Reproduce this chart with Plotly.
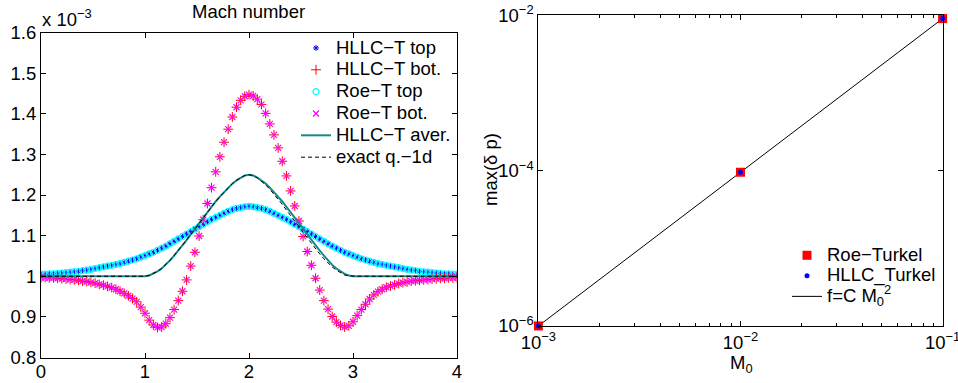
import numpy as np
import plotly.graph_objects as go

# ---------------- data: left panel (Mach number, units of 1e-3) ----------------
x_grid = np.linspace(0.0, 4.0, 101)

hllc_top = [
    1.005, 1.005, 1.006, 1.006, 1.007, 1.008, 1.009, 1.010, 1.011, 1.012,
    1.014, 1.015, 1.017, 1.019, 1.021, 1.023, 1.025, 1.027, 1.029, 1.031,
    1.034, 1.037, 1.040, 1.043, 1.047, 1.051, 1.055, 1.059, 1.064, 1.069,
    1.074, 1.080, 1.086, 1.092, 1.098, 1.104, 1.110, 1.116, 1.122, 1.128,
    1.134, 1.140, 1.145, 1.150, 1.155, 1.160, 1.164, 1.167, 1.169, 1.171,
    1.172,
    1.171, 1.169, 1.167, 1.164, 1.160, 1.155, 1.150, 1.145, 1.140, 1.134,
    1.128, 1.122, 1.116, 1.110, 1.104, 1.098, 1.092, 1.086, 1.080, 1.074,
    1.069, 1.064, 1.059, 1.055, 1.051, 1.047, 1.043, 1.040, 1.037, 1.034,
    1.031, 1.029, 1.027, 1.025, 1.023, 1.021, 1.019, 1.017, 1.015, 1.014,
    1.012, 1.011, 1.010, 1.009, 1.008, 1.007, 1.006, 1.006, 1.005, 1.005,
]
roe_top = list(hllc_top)

hllc_bot = [
    0.997, 0.997, 0.996, 0.996, 0.995, 0.994, 0.993, 0.992, 0.991, 0.990,
    0.988, 0.987, 0.985, 0.983, 0.980, 0.978, 0.975, 0.972, 0.968, 0.963,
    0.958, 0.952, 0.945, 0.937, 0.924, 0.909, 0.892, 0.880, 0.874, 0.875,
    0.883, 0.898, 0.918, 0.940, 0.963, 0.991, 1.025, 1.059, 1.099, 1.139,
    1.179, 1.218, 1.257, 1.294, 1.330, 1.362, 1.392, 1.416, 1.433, 1.443,
    1.447,
    1.444, 1.436, 1.423, 1.401, 1.375, 1.348, 1.316, 1.283, 1.247, 1.210,
    1.173, 1.136, 1.098, 1.061, 1.027, 0.995, 0.966, 0.940, 0.919, 0.901,
    0.887, 0.879, 0.875, 0.878, 0.888, 0.903, 0.918, 0.931, 0.944, 0.954,
    0.962, 0.968, 0.973, 0.976, 0.979, 0.982, 0.984, 0.986, 0.988, 0.989,
    0.990, 0.991, 0.992, 0.993, 0.994, 0.995, 0.995, 0.996, 0.996, 0.997,
]
roe_bot = list(hllc_bot)

hllc_aver = [
    1.000, 1.000, 1.000, 1.000, 1.000, 1.000, 1.000, 1.000, 1.000, 1.000,
    1.000, 1.000, 1.000, 1.000, 1.000, 1.000, 1.000, 1.000, 1.000, 1.000,
    1.000, 1.000, 1.000, 1.000, 1.000, 1.000,
    1.002, 1.006, 1.012, 1.019, 1.028, 1.039, 1.051, 1.063, 1.076, 1.089,
    1.103, 1.117, 1.131, 1.145, 1.158, 1.171, 1.184, 1.196, 1.207, 1.218,
    1.228, 1.236, 1.243, 1.248, 1.250,
    1.248, 1.243, 1.236, 1.228, 1.218, 1.207, 1.196, 1.184, 1.171, 1.158,
    1.145, 1.131, 1.117, 1.103, 1.089, 1.076, 1.063, 1.051, 1.039, 1.028,
    1.019, 1.012, 1.006, 1.002,
    1.000, 1.000, 1.000, 1.000, 1.000, 1.000, 1.000, 1.000, 1.000, 1.000,
    1.000, 1.000, 1.000, 1.000, 1.000, 1.000, 1.000, 1.000, 1.000, 1.000,
    1.000, 1.000, 1.000, 1.000, 1.000, 1.000,
]

exact_1d = [
    1.000, 1.000, 1.000, 1.000, 1.000, 1.000, 1.000, 1.000, 1.000, 1.000,
    1.000, 1.000, 1.000, 1.000, 1.000, 1.000, 1.000, 1.000, 1.000, 1.000,
    1.000, 1.000, 1.000, 1.000, 1.000, 1.000,
    1.002, 1.006, 1.012, 1.019, 1.028, 1.039, 1.051, 1.063, 1.076, 1.089,
    1.103, 1.117, 1.131, 1.145, 1.158, 1.171, 1.184, 1.196, 1.207, 1.218,
    1.228, 1.236, 1.243, 1.248, 1.250,
    1.248, 1.242, 1.234, 1.225, 1.214, 1.202, 1.190, 1.177, 1.163, 1.150,
    1.136, 1.122, 1.108, 1.094, 1.080, 1.067, 1.055, 1.043, 1.032, 1.023,
    1.015, 1.008, 1.003, 1.001,
    1.000, 1.000, 1.000, 1.000, 1.000, 1.000, 1.000, 1.000, 1.000, 1.000,
    1.000, 1.000, 1.000, 1.000, 1.000, 1.000, 1.000, 1.000, 1.000, 1.000,
    1.000, 1.000, 1.000, 1.000, 1.000, 1.000,
]

left_xticks = [0, 1, 2, 3, 4]
left_yticks = [0.8, 0.9, 1.0, 1.1, 1.2, 1.3, 1.4, 1.5, 1.6]
left_yticklabels = ["0.8", "0.9", "1", "1.1", "1.2", "1.3", "1.4", "1.5", "1.6"]

# ---------------- data: right panel ----------------
mach0 = [1e-3, 1e-2, 1e-1]
roe_turkel = [1.0e-6, 9.6e-5, 9.2e-3]
hllc_turkel = [1.0e-6, 9.6e-5, 9.2e-3]
fit_cm2 = [1.0e-6, 9.6e-5, 9.2e-3]

right_xticks = [1e-3, 1e-2, 1e-1]
right_xticklabels = ["10<sup>−3</sup>", "10<sup>−2</sup>", "10<sup>−1</sup>"]
right_yticks = [1e-6, 1e-4, 1e-2]
right_yticklabels = ["10<sup>−6</sup>", "10<sup>−4</sup>", "10<sup>−2</sup>"]
right_xminor = [2e-3, 3e-3, 4e-3, 5e-3, 6e-3, 7e-3, 8e-3, 9e-3,
                2e-2, 3e-2, 4e-2, 5e-2, 6e-2, 7e-2, 8e-2, 9e-2]

FONT = "Liberation Sans, Arial, Helvetica, sans-serif"
FS = 18.5
W, H = 958, 383


def big(label):
    return "<span style='font-size:%spx'>%s</span>" % (FS, label)


fig = go.Figure()

# left panel traces
fig.add_trace(go.Scatter(
    x=x_grid, y=hllc_top, mode="markers", name=big("HLLC−T top"),
    marker=dict(symbol="asterisk", size=5, color="blue", line=dict(color="blue", width=1)),
    xaxis="x", yaxis="y", legend="legend"))
fig.add_trace(go.Scatter(
    x=x_grid, y=hllc_bot, mode="markers", name=big("HLLC−T bot."),
    marker=dict(symbol="cross-thin", size=7, color="red", line=dict(color="red", width=1)),
    xaxis="x", yaxis="y", legend="legend"))
fig.add_trace(go.Scatter(
    x=x_grid, y=roe_top, mode="markers", name=big("Roe−T top"),
    marker=dict(symbol="circle-open", size=6, color="cyan", line=dict(color="cyan", width=1.2)),
    xaxis="x", yaxis="y", legend="legend"))
fig.add_trace(go.Scatter(
    x=x_grid, y=roe_bot, mode="markers", name=big("Roe−T bot."),
    marker=dict(symbol="x-thin", size=6, color="magenta", line=dict(color="magenta", width=1.2)),
    xaxis="x", yaxis="y", legend="legend"))
fig.add_trace(go.Scatter(
    x=x_grid, y=hllc_aver, mode="lines", name=big("HLLC−T aver."),
    line=dict(color="#168a8a", width=2),
    xaxis="x", yaxis="y", legend="legend"))
fig.add_trace(go.Scatter(
    x=x_grid, y=exact_1d, mode="lines", name=big("exact q.−1d"),
    line=dict(color="black", width=1, dash="4px,3px"),
    xaxis="x", yaxis="y", legend="legend"))

# right panel traces
fig.add_trace(go.Scatter(
    x=mach0, y=fit_cm2, mode="lines", name=big("f=C M<sub>0</sub><sup>2</sup>"),
    line=dict(color="black", width=1), legendrank=3,
    xaxis="x2", yaxis="y2", legend="legend2", cliponaxis=False))
fig.add_trace(go.Scatter(
    x=mach0, y=roe_turkel, mode="markers", name=big("Roe−Turkel"),
    marker=dict(symbol="square", size=9, color="red"), legendrank=1,
    xaxis="x2", yaxis="y2", legend="legend2", cliponaxis=False))
fig.add_trace(go.Scatter(
    x=mach0, y=hllc_turkel, mode="markers", name=big("HLLC_Turkel"),
    marker=dict(symbol="circle", size=5, color="blue"), legendrank=2,
    xaxis="x2", yaxis="y2", legend="legend2", cliponaxis=False))

axis_common = dict(showline=True, linecolor="black", linewidth=1, mirror="ticks",
                   ticks="inside", ticklen=5, tickcolor="black", showgrid=False,
                   zeroline=False, automargin=False, ticklabeloverflow="allow",
                   tickfont=dict(family=FONT, size=FS, color="black"))

fig.update_layout(
    width=W, height=H, autosize=False,
    margin=dict(l=0, r=0, t=0, b=0, autoexpand=False),
    paper_bgcolor="white", plot_bgcolor="white",
    font=dict(family=FONT, size=FS, color="black"),
    xaxis=dict(domain=[41 / W, 457 / W], range=[0, 4], tickmode="array",
               tickvals=left_xticks, anchor="y", ticklabelstandoff=-3, **axis_common),
    yaxis=dict(domain=[(H - 357.5) / H, (H - 32.5) / H], range=[0.8, 1.6], tickmode="array",
               tickvals=left_yticks, ticktext=left_yticklabels, anchor="x", **axis_common),
    xaxis2=dict(domain=[538.3 / W, 942.7 / W], type="log", range=[-3.0005, -0.9995], tickmode="array",
                tickvals=right_xticks, ticktext=right_xticklabels, anchor="y2",
                minor=dict(tickvals=right_xminor, ticks="inside", ticklen=3, tickcolor="black"),
                **axis_common),
    yaxis2=dict(domain=[(H - 326) / H, (H - 15) / H], type="log", range=[-6.0005, -1.99], tickmode="array",
                tickvals=right_yticks, ticktext=right_yticklabels, anchor="x2", **axis_common),
    legend=dict(x=456 / W, xanchor="right", y=(H - 32) / H, yanchor="top",
                bgcolor="rgba(0,0,0,0)", borderwidth=0,
                font=dict(family=FONT, size=14.5, color="black"), tracegroupgap=0),
    legend2=dict(x=941 / W, xanchor="right", y=(H - 312) / H, yanchor="bottom",
                 bgcolor="rgba(0,0,0,0)", borderwidth=0,
                 font=dict(family=FONT, size=13.5, color="black"), tracegroupgap=0),
    showlegend=True,
    annotations=[
        dict(text="Mach number", x=249 / W, y=(H - 11) / H, xref="paper", yref="paper",
             showarrow=False, xanchor="center", yanchor="middle",
             font=dict(family=FONT, size=FS, color="black")),
        dict(text="x 10<sup>−3</sup>", x=40 / W, y=(H - 18) / H, xref="paper", yref="paper",
             showarrow=False, xanchor="left", yanchor="middle",
             font=dict(family=FONT, size=FS, color="black")),
        dict(text="max(δ p)", x=490 / W, y=(H - 170) / H, xref="paper", yref="paper",
             showarrow=False, xanchor="center", yanchor="middle", textangle=-90,
             font=dict(family=FONT, size=FS, color="black")),
        dict(text="M<sub>0</sub>", x=741 / W, y=(H - 364) / H, xref="paper", yref="paper",
             showarrow=False, xanchor="center", yanchor="middle",
             font=dict(family=FONT, size=FS, color="black")),
    ],
)

fig.write_html("out.html")
